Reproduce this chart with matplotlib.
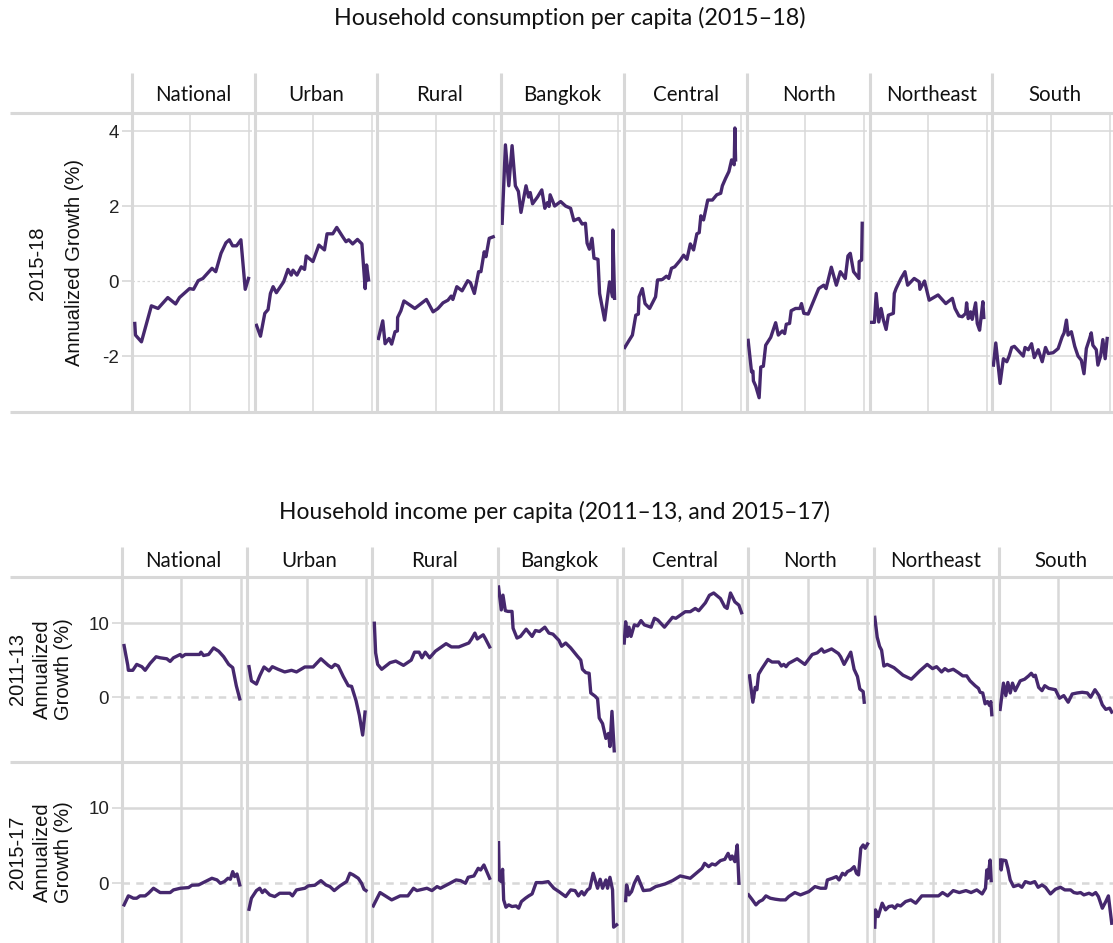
import matplotlib
matplotlib.use("Agg")
import matplotlib.pyplot as plt
from matplotlib.lines import Line2D

W, H = 1113, 943
LINE = "#46286e"
GRID = "#d8d8d8"
STRIP_FONT = ["Lato", "DejaVu Sans"]
AXIS_FONT = ["Liberation Sans", "DejaVu Sans"]

REGIONS = ["National", "Urban", "Rural", "Bangkok", "Central", "North", "Northeast", "South"]

# ---- Household consumption per capita, 2015-18 (percentile, growth %) ----
CONS_NATIONAL_PCT = [2.8, 3.4, 8.5, 17, 22.7, 31, 37.7, 41, 49.6, 53, 57, 61, 68.8, 72, 76.5, 80.7, 83.6, 86.4, 89.8, 93.5, 97.2, 100]
CONS_NATIONAL_G = [-1.13, -1.44, -1.62, -0.66, -0.73, -0.44, -0.61, -0.44, -0.2, -0.22, 0.01, 0.07, 0.34, 0.25, 0.74, 1.02, 1.1, 0.94, 0.94, 1.1, -0.22, 0.07]
CONS_URBAN_PCT = [1.7, 5.1, 8.8, 11.6, 13.6, 15.9, 18.7, 24.9, 28.6, 31.4, 32.9, 36.3, 40, 42.8, 44.2, 49.9, 55, 59.8, 62, 66.9, 70.3, 75.4, 78.2, 80.5, 83.9, 88, 91.8, 94.6, 95.8, 97.5]
CONS_URBAN_G = [-1.18, -1.47, -0.86, -0.76, -0.33, -0.15, -0.31, -0.02, 0.31, 0.16, 0.29, 0.16, 0.38, 0.31, 0.67, 0.52, 0.96, 0.83, 1.26, 1.26, 1.43, 1.18, 1.05, 1.1, 0.99, 1.11, 0.99, -0.2, 0.43, 0.03]
CONS_RURAL_PCT = [0.8, 4.5, 6.5, 9.9, 12.1, 15, 17, 17.2, 20, 22.6, 31.9, 41.8, 47.5, 51.7, 56, 60.2, 63, 64.4, 67.8, 72.3, 77.1, 79.4, 82.8, 86.4, 88.4, 91.2, 92.7, 95.5, 98.9]
CONS_RURAL_G = [-1.53, -1.06, -1.67, -1.53, -1.68, -1.35, -1.33, -0.97, -0.79, -0.53, -0.73, -0.49, -0.82, -0.73, -0.58, -0.51, -0.4, -0.49, -0.15, -0.26, 0.01, -0.04, -0.33, 0.25, 0.25, 0.78, 0.65, 1.14, 1.18]
CONS_BANGKOK_PCT = [1.4, 4.2, 7.1, 9.9, 12.7, 15.3, 17.5, 21.8, 24, 25.4, 27.4, 31.6, 35.3, 37.9, 40.1, 41.5, 42.4, 46.3, 51.4, 55.6, 59.9, 62.7, 66.9, 69.8, 72.6, 74, 76, 78.2, 79.9, 83.3, 84.7, 89, 93.2, 95.8, 96, 97.5]
CONS_BANGKOK_G = [1.54, 3.63, 2.54, 3.61, 2.54, 2.39, 1.83, 2.54, 2.24, 2.36, 2.06, 2.24, 2.43, 1.94, 2.09, 1.99, 2.3, 2.0, 2.12, 2.0, 1.94, 1.61, 1.67, 1.52, 1.54, 1.01, 0.85, 1.14, 0.61, 0.58, -0.33, -1.04, -0.02, -0.42, 1.36, -0.46]
CONS_CENTRAL_PCT = [1.1, 4.8, 7.6, 10.5, 12.7, 13.3, 16.1, 18.4, 22.3, 27.4, 29.1, 33.1, 36.7, 38.7, 41, 43.8, 48.6, 51.4, 54.2, 57.1, 59.9, 62.7, 64.7, 66.1, 68.4, 72, 76, 79.7, 83.1, 84.5, 87.3, 90.1, 92.4, 94.6, 95.2, 95.8]
CONS_CENTRAL_G = [-1.77, -1.58, -1.44, -0.91, -0.88, -0.42, -0.2, -0.6, -0.73, -0.42, 0.03, 0.04, 0.13, 0.07, 0.34, 0.38, 0.56, 0.69, 0.58, 0.99, 0.83, 1.26, 1.29, 1.74, 1.63, 2.16, 2.16, 2.3, 2.34, 2.54, 2.74, 2.92, 3.23, 3.1, 4.08, 3.23]
CONS_NORTH_PCT = [1.4, 4.3, 5.5, 5.9, 7.9, 10.8, 12.2, 14.4, 16.4, 20.7, 24.9, 27.2, 30.6, 32.6, 34, 36.8, 38.2, 41.9, 45.6, 47, 49, 52.7, 61.7, 66, 68, 72.5, 76.8, 80.2, 84.4, 86.7, 88.7, 91.5, 96.1, 96.3, 98.4, 98.9]
CONS_NORTH_G = [-1.58, -2.42, -2.4, -2.66, -2.8, -3.11, -2.29, -2.27, -1.71, -1.5, -1.11, -1.44, -1.33, -1.4, -1.15, -1.13, -0.79, -0.73, -0.73, -0.6, -0.86, -0.88, -0.2, -0.11, -0.2, 0.37, -0.11, 0.25, 0.07, 0.67, 0.74, 0.25, 0.07, 0.52, 0.56, 1.54]
CONS_NORTHEAST_PCT = [0.6, 4.2, 5.7, 7.9, 9.9, 11.9, 14.2, 16.1, 20.4, 21.2, 22.7, 26.9, 30.3, 32.6, 38.2, 42.5, 43.1, 47, 51, 58.6, 65.2, 70.8, 73.1, 76.5, 79.3, 82.2, 83, 84.4, 86.4, 87.8, 90.7, 92.1, 94.1, 96.9, 97.7]
CONS_NORTHEAST_G = [-1.1, -1.1, -0.33, -1.09, -0.73, -1.04, -1.29, -0.91, -0.86, -0.33, -0.2, 0.07, 0.25, -0.11, 0.07, -0.02, -0.22, 0.0, -0.51, -0.37, -0.6, -0.46, -0.73, -0.93, -0.95, -0.86, -0.58, -1.0, -0.82, -1.02, -0.58, -1.13, -1.31, -0.55, -0.97]
CONS_SOUTH_PCT = [0.8, 2.8, 6.5, 9.3, 12.2, 14.2, 16.4, 18.7, 26.3, 27.8, 30.6, 33.4, 35.7, 39.1, 42.5, 45.3, 47.6, 51.8, 56.1, 59.5, 61.2, 63.2, 64.6, 67.4, 70.3, 73.1, 75.9, 78.2, 80.2, 83, 84.4, 85.8, 88.7, 90.1, 92.4, 94.3, 96.3, 98]
CONS_SOUTH_G = [-2.24, -1.65, -2.73, -2.07, -2.15, -2.0, -1.77, -1.74, -2.0, -1.77, -1.83, -1.67, -2.04, -1.83, -2.15, -1.77, -1.93, -1.91, -1.8, -1.49, -1.38, -1.04, -1.44, -1.35, -1.74, -2.0, -2.11, -2.47, -1.8, -1.53, -1.38, -1.71, -1.83, -2.24, -2.0, -1.56, -2.07, -1.53]

# ---- Household income per capita, 2011-13 ----
INC13_NATIONAL_PCT = [2, 5.1, 5.6, 9.3, 12.6, 16.9, 19.7, 23.9, 28.9, 32.3, 37.9, 40.7, 43.5, 49.2, 50.6, 53.4, 65.4, 66.6, 68.8, 73, 77.2, 81.5, 85.7, 89.9, 93.3, 96.3, 99.2]
INC13_NATIONAL_G = [6.98, 4.31, 3.64, 3.64, 4.44, 4.13, 3.64, 4.58, 5.47, 5.33, 5.2, 4.84, 5.33, 5.78, 5.47, 5.78, 5.78, 6.09, 5.64, 5.78, 6.67, 6.22, 5.47, 4.44, 4.0, 1.56, -0.22]
INC13_URBAN_PCT = [1.7, 3.7, 7.9, 10.7, 14.3, 18.5, 21.3, 26.1, 31.7, 37.4, 41.6, 48.6, 55.6, 62.1, 68.3, 71.1, 73.9, 76.7, 80.9, 85.1, 87.9, 91.6, 94.4, 97.2, 99.2]
INC13_URBAN_G = [4.13, 2.22, 1.78, 2.89, 4.09, 3.56, 4.13, 3.78, 3.42, 3.64, 3.42, 4.09, 4.09, 5.2, 4.31, 4.0, 4.44, 4.22, 2.8, 1.56, 1.47, -0.44, -2.44, -5.11, -2.0]
INC13_RURAL_PCT = [1.7, 2.8, 4.5, 7.9, 14.9, 19.7, 26.2, 32.7, 35.5, 39.4, 41.7, 44.5, 48.2, 53, 62, 66.5, 72.7, 81.1, 83.4, 86.2, 88.2, 90.4, 93.2, 95.2, 98.6]
INC13_RURAL_G = [10.0, 6.0, 4.44, 3.78, 4.67, 4.89, 4.31, 5.02, 6.09, 6.09, 5.33, 6.09, 5.33, 6.22, 7.24, 6.8, 6.8, 7.33, 7.87, 8.67, 7.87, 8.13, 8.44, 7.87, 6.8]
INC13_BANGKOK_PCT = [0.8, 3.1, 4.5, 6.5, 8.7, 12.1, 13, 16.3, 19.2, 24, 29, 31.8, 35.2, 39.7, 43.1, 46.5, 51.5, 53.8, 57.2, 61.4, 67, 69.9, 71.3, 74.1, 76.9, 78.3, 82, 84, 85.4, 88.2, 91, 93.2, 94.4, 96.1, 98]
INC13_BANGKOK_G = [14.9, 11.8, 13.8, 11.7, 11.6, 11.6, 9.33, 8.0, 8.22, 9.2, 8.22, 9.02, 8.89, 9.47, 8.67, 8.53, 7.69, 6.89, 7.33, 6.67, 5.56, 5.02, 3.78, 3.33, 3.24, 0.58, 0.13, -0.22, -2.8, -3.56, -5.56, -4.89, -6.67, -1.91, -7.24]
INC13_CENTRAL_PCT = [1.1, 2.3, 3.9, 5.1, 6.8, 9.6, 12.4, 15.2, 18, 23.7, 26.5, 29.3, 34.9, 41.7, 44.5, 52.4, 56.6, 60.8, 63.7, 69.3, 72.7, 76.3, 82, 85.6, 87.6, 90.4, 94.1, 97.5, 99.7]
INC13_CENTRAL_G = [7.33, 10.2, 8.22, 9.47, 8.22, 9.78, 9.64, 10.36, 9.78, 9.47, 10.67, 10.44, 9.47, 10.8, 10.67, 11.56, 11.56, 12.0, 11.69, 12.76, 13.78, 14.09, 13.33, 12.22, 12.0, 14.09, 12.89, 12.44, 11.42]
INC13_NORTH_PCT = [1.1, 3.9, 5.9, 7.3, 8.7, 11.5, 16.6, 20, 25.6, 27.9, 29.9, 31.8, 34.1, 41.1, 47.6, 53.8, 58, 61.7, 63.7, 70.1, 75.8, 77.7, 80.6, 86.2, 89, 91.8, 93.8, 96.6, 97.5]
INC13_NORTH_G = [2.89, -0.67, 1.33, 1.02, 3.11, 3.87, 5.11, 4.76, 4.76, 4.22, 4.44, 4.13, 4.58, 5.2, 4.44, 5.78, 6.0, 6.53, 6.09, 6.53, 5.91, 5.47, 4.44, 6.09, 3.78, 2.8, 1.11, 0.76, -0.67]
INC13_NORTHEAST_PCT = [1.1, 3.1, 5.1, 6.8, 8.7, 11.5, 17.2, 24.8, 31.8, 38.9, 45.1, 49.6, 53, 57.2, 60, 62.8, 67, 71.3, 75, 78.3, 81.1, 85.4, 88.2, 89.6, 91.8, 93.8, 95.8, 97.5, 98.6, 99.4]
INC13_NORTHEAST_G = [10.8, 8.13, 6.89, 6.36, 4.22, 4.44, 4.0, 2.98, 2.44, 3.56, 4.44, 3.87, 4.13, 3.42, 3.87, 3.56, 3.78, 3.33, 2.89, 2.89, 2.22, 1.56, 1.2, 0.67, 0.58, -0.89, -0.58, -1.11, -0.58, -2.36]
INC13_SOUTH_PCT = [1.1, 3.9, 5.9, 7.6, 9.6, 11.5, 13.8, 18, 21.7, 25.1, 27.3, 29.3, 30.7, 33.5, 36.3, 38.6, 42, 47.6, 51, 54.6, 58.3, 61.7, 65.9, 70.1, 74.4, 77.2, 80.8, 84.2, 87, 89.9, 93.2, 94.9]
INC13_SOUTH_G = [-1.64, 1.91, 0.22, 2.0, 0.58, 1.91, 0.89, 2.22, 2.44, 2.89, 3.24, 2.8, 2.98, 1.33, 0.89, 1.56, 1.2, 1.02, -0.13, 0.22, -0.67, 0.44, 0.58, 0.67, 0.58, 0.0, 1.02, 0.22, -1.02, -1.64, -1.47, -2.0]

# ---- Household income per capita, 2015-17 ----
INC17_NATIONAL_PCT = [2, 5.6, 7, 9.8, 12.6, 15.4, 19.7, 22.5, 26.7, 32.3, 40.7, 43.5, 49.2, 56.2, 59, 64.6, 70.2, 75.8, 80.1, 82.9, 86.2, 89.3, 91.3, 93.3, 94.9, 96.9, 99.2]
INC17_NATIONAL_G = [-2.86, -1.67, -1.76, -1.98, -1.98, -1.67, -1.67, -1.32, -0.66, -1.23, -1.23, -0.88, -0.66, -0.57, -0.26, -0.22, 0.22, 0.66, 0.44, 0.0, 0.22, 0.66, 0.53, 1.54, 0.88, 1.23, -0.22]
INC17_URBAN_PCT = [1.7, 3.7, 7.9, 10.7, 12.9, 14.9, 19.1, 23.3, 27.5, 36, 38.2, 41.6, 48.6, 51.4, 57, 62.1, 66.3, 69.7, 73.3, 78.1, 83.7, 86.5, 89.3, 93.5, 96.3, 98.3, 100]
INC17_URBAN_G = [-3.44, -1.98, -0.97, -0.66, -1.23, -0.88, -1.54, -1.76, -1.32, -1.32, -1.67, -0.88, -0.66, -0.35, -0.26, 0.35, -0.22, -0.44, -0.97, -0.35, 0.22, 1.32, 1.1, 0.66, 0.0, -0.79, -0.97]
INC17_RURAL_PCT = [0.8, 6.5, 16.3, 23.4, 29.9, 34.6, 37.5, 45.9, 50.1, 54.4, 57.2, 64.2, 70.4, 74.1, 78.3, 80.6, 85.4, 89, 91, 93.8, 98.6]
INC17_RURAL_G = [-3.0, -1.23, -2.2, -1.67, -1.67, -0.66, -0.97, -0.66, -0.97, -0.44, -0.66, -0.09, 0.44, 0.35, 0.0, 0.79, 0.97, 1.98, 1.76, 2.42, 0.66]
INC17_BANGKOK_PCT = [0.8, 1.4, 3.1, 4.2, 5.1, 7, 9.3, 12.1, 15.5, 17.7, 20, 23.4, 26.2, 29, 30.4, 32.4, 37.5, 42.5, 47.3, 51.5, 57.2, 61.4, 65.1, 67.9, 70.7, 72.7, 75.5, 77.5, 80.3, 84, 86.2, 88.2, 91, 92.4, 94.4, 96.6, 97.5, 100]
INC17_BANGKOK_G = [5.37, 0.44, 0.22, 1.85, -2.2, -3.17, -2.86, -3.08, -3.0, -3.3, -2.42, -1.98, -1.67, -1.41, -0.79, 0.09, 0.09, 0.22, -0.66, -1.1, -1.76, -0.88, -0.97, -1.67, -1.1, -1.54, -0.88, -0.66, 1.32, -0.66, 0.53, -0.66, 0.44, -0.66, 0.79, -0.88, -5.81, -5.5]
INC17_CENTRAL_PCT = [2.3, 3.1, 5.1, 7.3, 9.6, 12.4, 17.2, 22.8, 27.6, 35.5, 41.7, 48.2, 56.6, 66.5, 68.7, 72.1, 74.9, 77.7, 82, 85.6, 88.4, 90.4, 91.8, 94.1, 96.1, 97.5]
INC17_CENTRAL_G = [-2.29, -0.22, -1.54, -1.1, 0.0, 0.88, -0.97, -0.88, -0.44, -0.09, 0.35, 0.97, 0.66, 1.98, 2.64, 2.2, 2.56, 2.42, 3.0, 3.17, 3.96, 3.17, 3.61, 2.86, 5.07, 0.0]
INC17_NORTH_PCT = [0.3, 3.1, 6.5, 9.3, 12.1, 14.9, 18.6, 22.8, 27, 31.3, 34.1, 39.2, 43.9, 51, 56.1, 60.8, 65.1, 66.5, 70.7, 74.1, 76.3, 79.2, 81.4, 83.4, 86.2, 89, 91, 92.7, 94.6, 96.6, 98.3, 100.3]
INC17_NORTH_G = [-1.54, -2.11, -2.86, -2.42, -2.2, -1.67, -1.98, -2.11, -2.2, -2.2, -1.76, -1.23, -1.54, -1.1, -0.44, -0.66, -0.66, 0.44, 0.66, 0.88, 0.44, 1.32, 1.1, 1.54, 1.76, 2.2, 1.32, 1.1, 4.63, 5.07, 4.63, 5.2]
INC17_NORTHEAST_PCT = [1.1, 1.7, 3.9, 7.3, 10.1, 12.9, 15.8, 18, 20, 22.8, 27, 31.3, 35.5, 40.6, 54.6, 58, 62.3, 67, 72.1, 77.7, 82, 86.8, 91.3, 94.1, 95.2, 96.1, 98, 98.9]
INC17_NORTHEAST_G = [-5.81, -3.52, -4.41, -2.64, -3.52, -3.08, -3.0, -3.3, -2.86, -3.0, -2.42, -2.2, -2.64, -1.67, -1.67, -1.23, -1.67, -0.97, -1.23, -0.97, -1.23, -0.88, -1.41, -0.66, 1.76, 0.66, 3.08, 0.35]
INC17_SOUTH_PCT = [1.1, 2, 3.1, 5.9, 7.6, 9.6, 12.4, 16.6, 19.4, 22.3, 26.5, 30.2, 33, 36.3, 39.2, 43.4, 47.6, 51.8, 55.5, 60.3, 63.1, 65.9, 68.7, 71.5, 75.8, 78.6, 81.4, 83.7, 87, 89.9, 92.1, 94.9]
INC17_SOUTH_G = [3.08, 1.76, 3.08, 3.0, 1.98, 0.44, -0.44, -0.22, -0.53, 0.22, 0.0, 0.22, -0.53, -0.22, -0.53, -1.41, -0.79, -0.53, -0.88, -0.88, -1.23, -1.32, -1.23, -1.54, -1.32, -1.54, -1.23, -1.76, -3.3, -2.42, -1.67, -5.29]

CONS = [(CONS_NATIONAL_PCT, CONS_NATIONAL_G), (CONS_URBAN_PCT, CONS_URBAN_G), (CONS_RURAL_PCT, CONS_RURAL_G),
        (CONS_BANGKOK_PCT, CONS_BANGKOK_G), (CONS_CENTRAL_PCT, CONS_CENTRAL_G), (CONS_NORTH_PCT, CONS_NORTH_G),
        (CONS_NORTHEAST_PCT, CONS_NORTHEAST_G), (CONS_SOUTH_PCT, CONS_SOUTH_G)]
INC13 = [(INC13_NATIONAL_PCT, INC13_NATIONAL_G), (INC13_URBAN_PCT, INC13_URBAN_G), (INC13_RURAL_PCT, INC13_RURAL_G),
         (INC13_BANGKOK_PCT, INC13_BANGKOK_G), (INC13_CENTRAL_PCT, INC13_CENTRAL_G), (INC13_NORTH_PCT, INC13_NORTH_G),
         (INC13_NORTHEAST_PCT, INC13_NORTHEAST_G), (INC13_SOUTH_PCT, INC13_SOUTH_G)]
INC17 = [(INC17_NATIONAL_PCT, INC17_NATIONAL_G), (INC17_URBAN_PCT, INC17_URBAN_G), (INC17_RURAL_PCT, INC17_RURAL_G),
         (INC17_BANGKOK_PCT, INC17_BANGKOK_G), (INC17_CENTRAL_PCT, INC17_CENTRAL_G), (INC17_NORTH_PCT, INC17_NORTH_G),
         (INC17_NORTHEAST_PCT, INC17_NORTHEAST_G), (INC17_SOUTH_PCT, INC17_SOUTH_G)]


def fx(px):
    return px / W


def fy(py):
    return 1 - py / H


def fig_line(fig, x0, y0, x1, y1, lw):
    fig.add_artist(Line2D([fx(x0), fx(x1)], [fy(y0), fy(y1)], transform=fig.transFigure,
                          color=GRID, lw=lw, solid_capstyle="butt", zorder=0))


def make_panel(fig, left, top, width, height, series, ylim, yticks, first, grid_lw, zero_style):
    ax = fig.add_axes([fx(left), fy(top + height), fx(width), height / H])
    ax.set_xlim(0, 100 * width / (width - 3))
    ax.set_ylim(*ylim)
    for s in ax.spines.values():
        s.set_visible(False)
    ax.set_xticks([])
    ax.set_yticks(yticks)
    for t in yticks:
        if t != 0:
            ax.axhline(t, color=GRID, lw=grid_lw, zorder=1)
    ax.axhline(0, color=GRID, zorder=1, **zero_style)
    for xv in (50, 100):
        ax.axvline(xv, color=GRID, lw=grid_lw, zorder=1)
    ax.plot(series[0], series[1], color=LINE, lw=2.4, zorder=3, solid_joinstyle="round")
    if first:
        ax.tick_params(axis="y", length=7, width=1.2, color=GRID, pad=2, labelsize=13.5)
        ax.set_yticklabels([str(t) for t in yticks])
        for lab in ax.get_yticklabels():
            lab.set_family(AXIS_FONT)
            lab.set_color("#222222")
    else:
        ax.tick_params(axis="y", length=0, labelleft=False)
    ax.patch.set_alpha(0)
    return ax


def main():
    fig = plt.figure(figsize=(W / 100, H / 100), dpi=100)

    # ---------------- Top chart: consumption ----------------
    fig.text(fx(570), fy(18), "Household consumption per capita (2015\u201318)", ha="center", va="center",
             fontsize=16.8, family=STRIP_FONT, color="#111111")
    top_y0, top_y1 = 113, 412
    fig_line(fig, 10, top_y0, W, top_y0, 2.2)
    fig_line(fig, 10, top_y1, W, top_y1, 2.2)
    for k, name in enumerate(REGIONS):
        left = 131.5 + 123 * k
        fig_line(fig, left, 73, left, top_y1, 2.2)
        fig.text(fx(left + 62), fy(95), name, ha="center", va="center", fontsize=14.8,
                 family=STRIP_FONT, color="#111111")
        make_panel(fig, left, top_y0, 120, top_y1 - top_y0, CONS[k], (-3.49, 4.48), [-2, 0, 2, 4],
                   k == 0, 1.1, dict(lw=0.9, ls=(0, (2, 2))))
    fig.text(fx(38), fy(263), "2015-18", rotation=90, ha="center", va="center", fontsize=14.5,
             family=AXIS_FONT, color="#111111")
    fig.text(fx(75), fy(263), "Annualized Growth (%)", rotation=90, ha="center", va="center",
             fontsize=14.5, family=AXIS_FONT, color="#111111")

    # ---------------- Bottom chart: income ----------------
    fig.text(fx(554), fy(512), "Household income per capita (2011\u201313, and 2015\u201317)", ha="center",
             va="center", fontsize=16.5, family=STRIP_FONT, color="#111111")
    r0, r1, r2 = 577, 762, 949
    fig_line(fig, 10, r0, W, r0, 2.2)
    fig_line(fig, 10, r1, W, r1, 2.2)
    for k, name in enumerate(REGIONS):
        left = 121.7 + 125.3 * k
        fig_line(fig, left, 547, left, H, 2.2)
        fig.text(fx(left + 62), fy(561), name, ha="center", va="center", fontsize=14.8,
                 family=STRIP_FONT, color="#111111")
        zero = dict(lw=1.8, ls=(0, (3, 2.5)))
        make_panel(fig, left, r0, 122, r1 - r0, INC13[k], (-8.75, 16.25), [0, 10], k == 0, 1.8, zero)
        make_panel(fig, left, r1, 122, r2 - r1, INC17[k], (-8.7, 16.05), [0, 10], k == 0, 1.8, zero)
    for ymid, period in ((669, "2011-13"), (852, "2015-17")):
        fig.text(fx(18), fy(ymid), period, rotation=90, ha="center", va="center", fontsize=14.5,
                 family=AXIS_FONT, color="#111111")
        fig.text(fx(53), fy(ymid), "Annualized\nGrowth (%)", rotation=90, ha="center", va="center",
                 fontsize=14.5, family=AXIS_FONT, color="#111111", linespacing=1.15)

    fig.savefig("out.png", dpi=100)


if __name__ == "__main__":
    main()
